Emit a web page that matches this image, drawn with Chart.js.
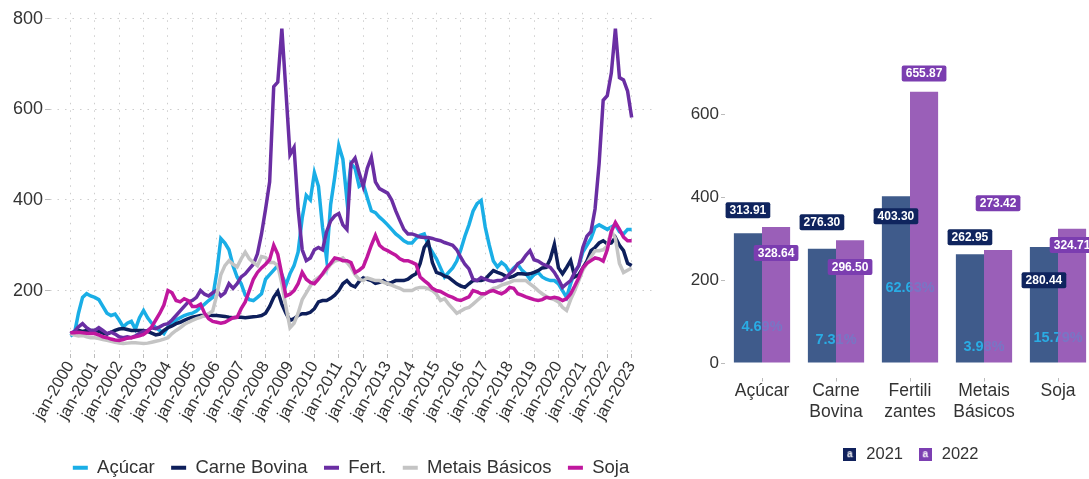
<!DOCTYPE html>
<html lang="pt">
<head>
<meta charset="UTF-8">
<title>Índices de preços de commodities</title>
<style>
  html, body { margin: 0; padding: 0; background: #fff; overflow: hidden; }
  body { width: 1089px; height: 479px; position: relative; }
  #left { position: absolute; left: 0; top: 0; width: 665px; height: 487px; }
  #right { position: absolute; left: 680px; top: 0; width: 415px; height: 479px; }
</style>
<script src="https://cdn.jsdelivr.net/npm/chart.js"></script>
</head>
<body>
<div id="left"><canvas id="lineChart"></canvas></div>
<div id="right"><canvas id="barChart"></canvas></div>
<script>
// ---- line chart: one value every 2 months, jan-2000 .. jan-2023 ----
const yearLabels = ['jan-2000','jan-2001','jan-2002','jan-2003','jan-2004','jan-2005','jan-2006','jan-2007',
  'jan-2008','jan-2009','jan-2010','jan-2011','jan-2012','jan-2013','jan-2014','jan-2015','jan-2016',
  'jan-2017','jan-2018','jan-2019','jan-2020','jan-2021','jan-2022','jan-2023'];
const seriesNames = ['Açúcar', 'Carne Bovina', 'Fert.', 'Metais Básicos', 'Soja'];
const yTicksLeft = [200, 400, 600, 800];

const acucar = [
  100,105,150,185,193,188,  185,180,165,150,145,148,  135,120,128,132,115,140,  156,140,128,118,112,105,
  120,128,135,140,145,148,  150,155,163,170,178,185,  240,315,305,290,255,230,  215,190,180,178,185,193,
  225,235,245,255,235,212,  237,255,285,360,410,400,  460,430,340,270,390,450,  520,490,400,480,470,430,
  436,405,376,372,362,354,  345,335,325,318,310,305,  305,315,322,325,300,285,  270,250,230,240,250,265,
  290,320,345,375,392,399,  340,300,265,252,262,255,  240,250,258,245,237,225,  235,240,230,225,222,222,
  215,200,185,215,240,255,  285,300,315,340,345,340,  335,340,345,330,325,335,  335];
const carne = [
  105,108,112,110,112,112,  112,110,106,104,108,112,  115,116,114,112,112,112,  112,110,106,102,104,112,
  118,122,127,130,134,138,  141,143,145,145,146,145,  145,144,143,141,140,141,  141,140,141,142,143,145,
  150,165,185,198,170,150,  134,138,145,149,149,152,  160,175,178,178,183,190,  200,215,222,212,208,220,
  228,225,222,216,218,222,  215,218,222,222,222,225,  232,237,260,295,308,262,  240,237,232,229,222,215,
  210,207,215,222,222,222,  225,235,244,240,237,232,  229,232,237,237,236,237,  240,244,250,251,270,302,
  250,237,251,266,230,235,  250,265,288,295,305,310,  303,305,317,300,288,260,  255];
const fert = [
  105,110,120,127,118,112,  112,118,112,105,108,104,   98, 96, 98, 96,100,105,  110,112,118,116,120,125,
  127,135,145,155,165,175,  178,185,200,192,188,195,  200,188,195,215,205,215,  230,237,248,258,281,325,
  380,440,650,660,778,640,  500,516,380,290,266,272,  290,295,290,330,354,365,  370,345,335,480,492,460,
  430,470,494,440,425,420,  415,400,376,355,335,325,  325,322,318,317,317,315,  312,310,306,303,300,290,
  273,258,248,225,222,229,  225,222,220,222,222,228,  237,245,259,265,278,288,  268,265,259,255,251,240,
  225,207,215,222,240,255,  295,320,330,380,480,620,  630,680,778,670,665,640,  582];
const metais = [
  105,102,100,101, 98, 96,   96, 94, 92, 90, 88, 86,   84, 83, 84, 85, 85, 84,   83, 84, 86, 88, 90, 93,
   96,105,112,118,125,130,  134,138,141,145,149,155,  190,235,255,266,258,252,  270,285,270,262,255,275,
  273,262,262,255,215,165,  118,128,150,180,195,210,  222,229,235,245,258,265,  268,272,262,251,235,225,
  222,228,225,222,222,218,  215,212,208,205,200,200,  200,205,207,207,204,200,  192,178,182,170,160,150,
  155,160,163,170,178,186,  193,198,205,207,212,215,  218,222,222,222,222,215,  208,200,193,187,183,180,
  175,163,156,180,200,222,  245,260,275,288,288,290,  298,332,315,260,240,245,  250];
const soja = [
  107,107,108,107,106,105,  105,102, 98, 96, 93, 91,   90, 92, 95, 96, 98,100,  103,110,120,135,150,168,
  200,195,178,175,182,178,  165,165,170,150,138,132,  130,128,130,135,140,141,  160,175,200,225,240,250,
  258,268,300,280,235,188,  192,200,215,240,225,218,  215,225,237,250,260,272,  270,266,266,262,240,245,
  252,275,300,322,300,292,  288,283,278,270,266,266,  262,258,230,222,215,205,  200,198,193,188,185,180,
  178,182,186,200,197,193,  193,198,200,196,193,198,  207,205,193,190,186,183,  180,178,180,185,183,185,
  183,178,182,193,210,228,  250,260,266,272,270,265,  290,330,350,335,318,310,  310];

// ---- bar chart: 2021 vs 2022 ----
const barCategories = ['Açúcar', ['Carne', 'Bovina'], ['Fertili', 'zantes'], ['Metais', 'Básicos'], 'Soja'];
const values2021 = [313.91, 276.30, 403.30, 262.95, 280.44];
const values2022 = [328.64, 296.50, 655.87, 273.42, 324.71];
const changeLabels = ['4.69%', '7.31%', '62.63%', '3.98%', '15.79%'];
const yTicksRight = [0, 200, 400, 600];

// where the boxed labels sit (in axis units), as in the original
const label2021Y = [369, 340, 355, 304, 200];
const label2022Y = [266, 232, 700, 386, 285];
const changeLabelY = [87, 56, 181, 39, 60];

Chart.defaults.font.family = "'Liberation Sans', Arial, sans-serif";
Chart.defaults.color = '#333';

const lineColors = ['#1aaee6', '#0e1f5b', '#6a2ea3', '#c4c4c4', '#c0179e'];
const xMonths = acucar.map((_, i) => i * 2);
const lineSeries = [acucar, carne, fert, metais, soja];

new Chart(document.getElementById('lineChart'), {
  type: 'line',
  data: {
    datasets: lineSeries.map((vals, i) => ({
      label: seriesNames[i],
      data: vals.map((v, j) => ({ x: xMonths[j], y: v })),
      borderColor: lineColors[i],
      backgroundColor: lineColors[i],
      borderWidth: 3.5,
      pointRadius: 0,
      tension: 0,
      order: 5 - i          // later series drawn on top, like ggplot
    }))
  },
  options: {
    responsive: true,
    maintainAspectRatio: false,
    animation: false,
    layout: { padding: { top: 12, right: 13, bottom: 0, left: 0 } },
    plugins: {
      tooltip: { enabled: false },
      legend: {
        position: 'bottom',
        fullSize: false,
        labels: {
          boxWidth: 15, boxHeight: 4, padding: 16.5, color: '#333', font: { size: 18.5 },
          sort: (a, b) => a.datasetIndex - b.datasetIndex,
          generateLabels: chart => Chart.defaults.plugins.legend.labels.generateLabels(chart)
            .map(l => Object.assign(l, { lineWidth: 0 }))
        }
      }
    },
    scales: {
      x: {
        type: 'linear', min: -10, max: 286,
        afterBuildTicks: s => { s.ticks = yearLabels.map((_, i) => ({ value: i * 12 })); },
        afterFit: s => { s.height = 88; },
        ticks: {
          autoSkip: false, minRotation: 60, maxRotation: 60, padding: 0,
          color: '#333', font: { size: 16.5 },
          callback: v => yearLabels[Math.round(v / 12)]
        },
        grid: { color: '#cdcdcd', lineWidth: 1, tickLength: 4, tickColor: '#bbb', tickBorderDash: [] },
        border: { display: false, dash: [1.5, 6] }
      },
      y: {
        min: 60, max: 813,
        afterBuildTicks: s => { s.ticks = yTicksLeft.map(v => ({ value: v })); },
        afterFit: s => { s.width = 50; },
        ticks: { color: '#333', font: { size: 18 }, padding: 2 },
        grid: { color: '#cdcdcd', lineWidth: 1, tickLength: 5, tickColor: '#bbb', tickBorderDash: [] },
        border: { display: false, dash: [1.5, 6] }
      }
    }
  }
});

// small legend keys with an "a" inside
function keySwatch(color) {
  const c = document.createElement('canvas');
  c.width = 13; c.height = 13;
  const g = c.getContext('2d');
  g.fillStyle = color;
  g.fillRect(0, 0, 13, 13);
  g.fillStyle = '#fff';
  g.font = "bold 10px 'Liberation Sans', Arial";
  g.textAlign = 'center';
  g.textBaseline = 'middle';
  g.fillText('a', 6.5, 6.5);
  return c;
}

function barRect(bar) {
  const p = bar.getProps(['x', 'y', 'base', 'width'], true);
  return [p.x - p.width / 2, Math.min(p.y, p.base), p.width, Math.abs(p.base - p.y)];
}

const boxLabels = {
  id: 'boxLabels',
  afterDatasetsDraw(chart) {
    const ctx = chart.ctx, xs = chart.scales.x, ys = chart.scales.y, area = chart.chartArea;
    const bars22 = chart.getDatasetMeta(1).data.map(barRect);
    const drawChange = () => changeLabels.forEach((t, i) =>
      ctx.fillText(t, xs.getPixelForValue(i), ys.getPixelForValue(changeLabelY[i])));

    // % change: bright outside the 2022 bars, faint where the 2022 bars cover it
    ctx.save();
    ctx.font = "bold 14.5px 'Liberation Sans', Arial";
    ctx.fillStyle = '#2aace4';
    ctx.textAlign = 'center';
    ctx.textBaseline = 'middle';
    ctx.save();
    ctx.beginPath();
    ctx.rect(area.left, area.top, area.right - area.left, area.bottom - area.top);
    bars22.forEach(r => ctx.rect(...r));
    ctx.clip('evenodd');
    drawChange();
    ctx.restore();
    ctx.save();
    ctx.beginPath();
    bars22.forEach(r => ctx.rect(...r));
    ctx.clip();
    ctx.globalAlpha = 0.3;
    drawChange();
    ctx.restore();
    ctx.restore();

    // boxed values
    const sets = [[0, label2021Y, '#0f245e'], [1, label2022Y, '#7b3db0']];
    ctx.save();
    ctx.font = "bold 12px 'Liberation Sans', Arial";
    ctx.textAlign = 'center';
    ctx.textBaseline = 'middle';
    sets.forEach(([di, posY, bg]) => {
      chart.getDatasetMeta(di).data.forEach((bar, i) => {
        const txt = chart.data.datasets[di].data[i].toFixed(2);
        const w = ctx.measureText(txt).width + 8, h = 16;
        const cx = bar.x, cy = ys.getPixelForValue(posY[i]);
        ctx.fillStyle = bg;
        ctx.beginPath();
        ctx.roundRect(cx - w / 2, cy - h / 2, w, h, 2);
        ctx.fill();
        ctx.fillStyle = '#fff';
        ctx.fillText(txt, cx, cy + 0.5);
      });
    });
    ctx.restore();
  }
};

new Chart(document.getElementById('barChart'), {
  type: 'bar',
  data: {
    labels: barCategories,
    datasets: [
      { label: '2021', data: values2021, backgroundColor: '#3f5b8b', pointStyle: keySwatch('#10215c'),
        categoryPercentage: 0.76, barPercentage: 1 },
      { label: '2022', data: values2022, backgroundColor: '#9a5fb8', pointStyle: keySwatch('#7c3fb2'),
        categoryPercentage: 0.76, barPercentage: 1 }
    ]
  },
  options: {
    responsive: true,
    maintainAspectRatio: false,
    animation: false,
    layout: { padding: { top: 61, right: 0, bottom: 6, left: 0 } },
    plugins: {
      tooltip: { enabled: false },
      legend: {
        position: 'bottom',
        fullSize: false,
        labels: { usePointStyle: true, padding: 14, color: '#333', font: { size: 16.5 } }
      }
    },
    scales: {
      x: {
        afterFit: s => { s.height = 55; },
        ticks: { color: '#333', font: { size: 17.5, lineHeight: 1.15 }, padding: 0 },
        grid: { drawOnChartArea: false, offset: false, tickLength: 4, tickColor: '#bbb' },
        border: { display: false }
      },
      y: {
        min: -35, max: 730,
        afterBuildTicks: s => { s.ticks = yTicksRight.map(v => ({ value: v })); },
        afterFit: s => { s.width = 45; },
        ticks: { color: '#333', font: { size: 17 }, padding: 2 },
        grid: { drawOnChartArea: false, tickLength: 4, tickColor: '#bbb' },
        border: { display: false }
      }
    }
  },
  plugins: [boxLabels]
});
</script>
</body>
</html>
